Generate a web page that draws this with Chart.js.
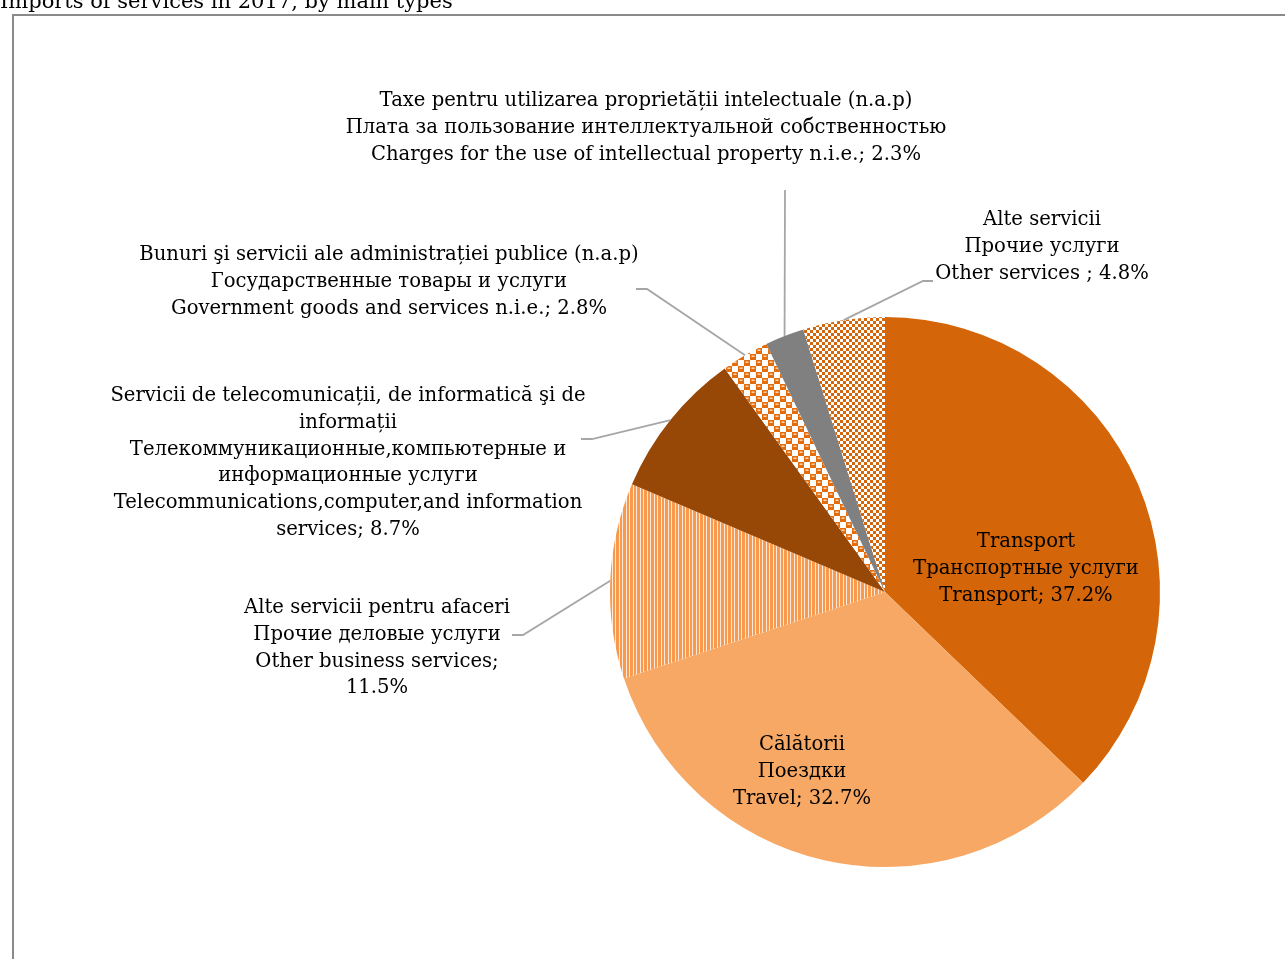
<!DOCTYPE html>
<html>
<head>
<meta charset="utf-8">
<script src="https://cdn.jsdelivr.net/npm/chart.js@4/dist/chart.umd.min.js"></script>
<style>
  html, body { margin: 0; padding: 0; background: #fff; }
  canvas { display: block; }
</style>
</head>
<body>
<canvas id="importsChart" width="1285" height="959"></canvas>
<script>
  // data (share of imports of services, %)
  const categories = ['Transport', 'Travel', 'Other business services', 'Telecommunications, computer and information services',
    'Government goods and services n.i.e.', 'Charges for the use of intellectual property n.i.e.', 'Other services'];
  const shares = [37.2, 32.7, 11.5, 8.7, 2.8, 2.3, 4.8];
  // label text, {v} is replaced by the share
  const labelLines = [
    ['Transport', 'Транспортные услуги', 'Transport; {v}%'],
    ['Călătorii', 'Поездки', 'Travel; {v}%'],
    ['Alte servicii pentru afaceri', 'Прочие деловые услуги', 'Other business services;', '{v}%'],
    ['Servicii de telecomunicații, de informatică şi de', 'informații', 'Телекоммуникационные,компьютерные и',
      'информационные услуги', 'Telecommunications,computer,and information', 'services; {v}%'],
    ['Bunuri şi servicii ale administrației publice (n.a.p)', 'Государственные товары и услуги',
      'Government goods and services n.i.e.; {v}%'],
    ['Taxe pentru utilizarea proprietății intelectuale (n.a.p)', 'Плата за пользование интеллектуальной собственностью',
      'Charges for the use of intellectual property n.i.e.; {v}%'],
    ['Alte servicii', 'Прочие услуги', 'Other services ; {v}%']
  ];
  const title = 'Imports of services in 2017, by main types';

  // where each label sits: text centre x, first line y, leader elbow and end (null = inside slice)
  const labelPos = [
    { x: 1026, y: 542, elbow: null, end: null },
    { x: 802, y: 745, elbow: null, end: null },
    { x: 377, y: 608, elbow: [523, 635], end: [512, 635] },
    { x: 348, y: 396, elbow: [592, 439], end: [581, 439] },
    { x: 389, y: 255, elbow: [647, 289], end: [636, 289] },
    { x: 646, y: 101, elbow: null, end: [785, 190] },
    { x: 1042, y: 220, elbow: [923, 281], end: [933, 281] }
  ];
  const lineHeight = 26.8;
  const font = '19.6px "DejaVu Serif", "Liberation Serif", serif';

  function makePattern(w, h, draw) {
    const c = document.createElement('canvas');
    c.width = w; c.height = h;
    const g = c.getContext('2d');
    draw(g);
    return document.getElementById('importsChart').getContext('2d').createPattern(c, 'repeat');
  }

  const stripes = makePattern(7, 1, g => {
    g.fillStyle = '#fde9d9'; g.fillRect(0, 0, 7, 1);
    g.fillStyle = '#F79A4E'; g.fillRect(0, 0, 3, 1); g.fillRect(4, 0, 2, 1);
  });
  const bigChecks = makePattern(12, 12, g => {
    g.fillStyle = '#fff'; g.fillRect(0, 0, 12, 12);
    g.fillStyle = '#E46C0A';
    g.fillRect(0, 0, 6, 6); g.fillRect(6, 6, 6, 6);
    g.fillStyle = '#fbd6b4';
    g.fillRect(1.5, 1.5, 3, 1.5); g.fillRect(7.5, 7.5, 3, 1.5);
  });
  const smallChecks = makePattern(6, 6, g => {
    g.fillStyle = '#fff'; g.fillRect(0, 0, 6, 6);
    g.fillStyle = '#D46508';
    g.fillRect(0, 0, 3, 3); g.fillRect(3, 3, 3, 3);
  });

  const colors = ['#D46508', '#F7A864', stripes, '#974706', bigChecks, '#808080', smallChecks];

  const labelsPlugin = {
    id: 'labelsPlugin',
    beforeDraw(chart) {
      const ctx = chart.ctx;
      ctx.save();
      ctx.fillStyle = '#000';
      ctx.font = '21px "DejaVu Serif", "Liberation Serif", serif';
      ctx.textAlign = 'left';
      ctx.textBaseline = 'alphabetic';
      ctx.fillText(title, 0, 8);
      ctx.strokeStyle = '#8a8a8a';
      ctx.lineWidth = 2;
      ctx.beginPath();
      ctx.moveTo(13, 960);
      ctx.lineTo(13, 15);
      ctx.lineTo(1290, 15);
      ctx.stroke();
      ctx.restore();
    },
    afterDatasetsDraw(chart) {
      const ctx = chart.ctx;
      const arcs = chart.getDatasetMeta(0).data;
      ctx.save();
      ctx.strokeStyle = '#a6a6a6';
      ctx.lineWidth = 1.8;
      arcs.forEach((arc, i) => {
        const p = labelPos[i];
        if (!p.end) return;
        const a = arc.getProps(['x', 'y', 'startAngle', 'endAngle', 'outerRadius'], true);
        const mid = (a.startAngle + a.endAngle) / 2;
        ctx.beginPath();
        ctx.moveTo(a.x + Math.cos(mid) * a.outerRadius, a.y + Math.sin(mid) * a.outerRadius);
        if (p.elbow) ctx.lineTo(p.elbow[0], p.elbow[1]);
        ctx.lineTo(p.end[0], p.end[1]);
        ctx.stroke();
      });
      ctx.fillStyle = '#000';
      ctx.font = font;
      ctx.textAlign = 'center';
      ctx.textBaseline = 'middle';
      labelLines.forEach((lines, i) => {
        const p = labelPos[i];
        lines.forEach((t, k) => {
          ctx.fillText(t.replace('{v}', shares[i].toFixed(1)), p.x, p.y + k * lineHeight);
        });
      });
      ctx.restore();
    }
  };

  new Chart(document.getElementById('importsChart'), {
    type: 'pie',
    data: {
      labels: categories,
      datasets: [{
        data: shares,
        backgroundColor: colors,
        borderWidth: 0
      }]
    },
    options: {
      responsive: false,
      animation: false,
      layout: { padding: { left: 610, right: 125, top: 317, bottom: 92 } },
      plugins: {
        legend: { display: false },
        tooltip: { enabled: false }
      }
    },
    plugins: [labelsPlugin]
  });
</script>
</body>
</html>
